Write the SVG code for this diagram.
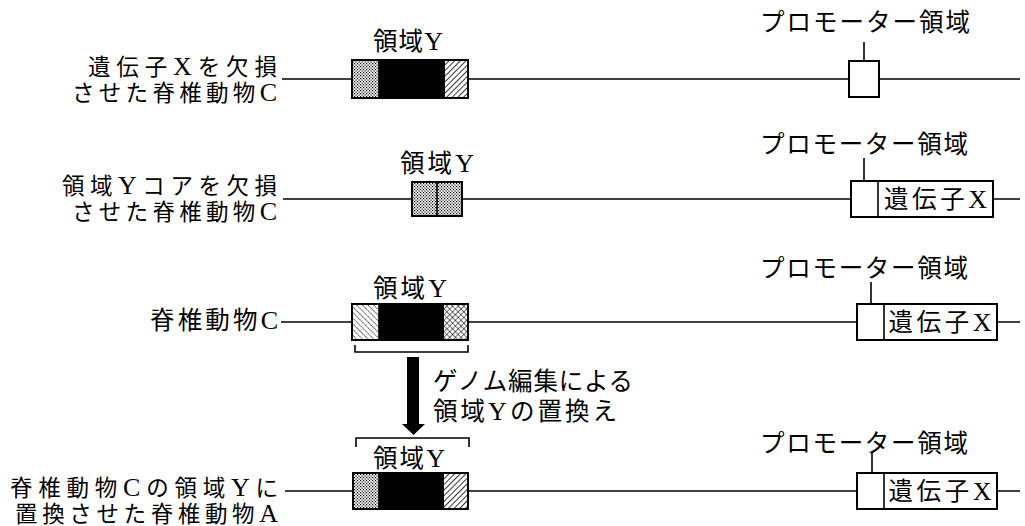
<svg xmlns="http://www.w3.org/2000/svg" width="1025" height="526" viewBox="0 0 1025 526">
<style>
text{font-family:"Liberation Serif","Noto Sans CJK JP",serif;font-size:24.5px;fill:#000}
.s{font-size:22.5px}
.L{font-size:26px}
.ln{stroke:#000;stroke-width:1.6;fill:none}
.bx{stroke:#000;stroke-width:2;fill:#fff}
.ol{stroke:#000;stroke-width:2;fill:none}
.blk{fill:#000}
.br{stroke:#000;stroke-width:1.6;fill:none}
</style>
<defs>
<pattern id="dots" width="3" height="3" patternUnits="userSpaceOnUse">
<rect width="3" height="3" fill="#fff"/><rect x="0" y="0" width="1.2" height="1.2" fill="#000"/><rect x="1.5" y="1.5" width="1.2" height="1.2" fill="#000"/>
</pattern>
<pattern id="hatch" width="4" height="4" patternUnits="userSpaceOnUse" patternTransform="rotate(45)">
<rect width="4" height="4" fill="#fff"/><line x1="0" y1="0" x2="0" y2="4" stroke="#000" stroke-width="1.6"/>
</pattern>
<pattern id="dhatch" width="4" height="4" patternUnits="userSpaceOnUse" patternTransform="rotate(-45)">
<rect width="4" height="4" fill="#fff"/><line x1="0" y1="0" x2="0" y2="4" stroke="#000" stroke-width="1.4" stroke-dasharray="1.4 0.8"/>
</pattern>
<pattern id="xhatch" width="4" height="4" patternUnits="userSpaceOnUse" patternTransform="rotate(45)">
<rect width="4" height="4" fill="#fff"/><line x1="0" y1="0" x2="0" y2="4" stroke="#000" stroke-width="1.1"/><line x1="0" y1="0" x2="4" y2="0" stroke="#000" stroke-width="1.1"/>
</pattern>
</defs>

<g id="connectors">
<line class="ln" x1="282" y1="79" x2="1020" y2="79"/>
<line class="ln" x1="283" y1="199" x2="1020" y2="199"/>
<line class="ln" x1="281" y1="322" x2="1020" y2="322"/>
<line class="ln" x1="285" y1="491" x2="1020" y2="491"/>
<line class="ln" x1="864" y1="42" x2="864" y2="61"/>
<line class="ln" x1="864" y1="158" x2="864" y2="181"/>
<line class="ln" x1="871" y1="282" x2="871" y2="304"/>
<line class="ln" x1="872" y1="453" x2="872" y2="473"/>
<path class="br" d="M355,345 V352 H468 V345"/>
<path class="br" d="M356,447 V438 H469 V447"/>
<rect x="407" y="357" width="12" height="68" fill="#000"/>
<path d="M402,424 L425,424 L413.5,435 Z" fill="#000"/>
</g>

<g id="row1-label">
<text class="s" x="277" y="75" text-anchor="end" textLength="189" lengthAdjust="spacing">遺伝子<tspan class="L">X</tspan>を欠損</text>
<text class="s" x="277" y="101" text-anchor="end" textLength="205" lengthAdjust="spacing">させた脊椎動物<tspan class="L">C</tspan></text>
</g>
<g id="row1-regionY">
<text x="408" y="50" text-anchor="middle" textLength="70" lengthAdjust="spacing">領域<tspan class="L">Y</tspan></text>
<rect class="bx" x="352" y="60" width="116" height="38"/>
<rect x="353" y="61" width="26" height="36" fill="url(#dots)"/>
<rect class="blk" x="379" y="61" width="66" height="36"/>
<rect x="445" y="61" width="22" height="36" fill="url(#hatch)"/>
<line class="ln" x1="379" y1="61" x2="379" y2="97"/>
</g>
<g id="row1-promoter">
<text x="865" y="31" text-anchor="middle" textLength="210" lengthAdjust="spacing">プロモーター領域</text>
<rect class="bx" x="849" y="61" width="30" height="36"/>
</g>

<g id="row2-label">
<text class="s" x="277" y="194" text-anchor="end" textLength="215" lengthAdjust="spacing">領域<tspan class="L">Y</tspan>コアを欠損</text>
<text class="s" x="277" y="220" text-anchor="end" textLength="205" lengthAdjust="spacing">させた脊椎動物<tspan class="L">C</tspan></text>
</g>
<g id="row2-regionY">
<text x="437" y="172" text-anchor="middle" textLength="74" lengthAdjust="spacing">領域<tspan class="L">Y</tspan></text>
<rect x="412" y="182" width="50" height="34" fill="url(#dots)"/>
<rect class="ol" x="412" y="182" width="50" height="34"/>
<line class="ln" x1="437" y1="183" x2="437" y2="215"/>
</g>
<g id="row2-promoter">
<text x="864" y="153" text-anchor="middle" textLength="208" lengthAdjust="spacing">プロモーター領域</text>
<rect class="bx" x="851" y="181" width="142" height="36"/>
<line class="ln" x1="878" y1="181" x2="878" y2="217"/>
<text x="935.5" y="208" text-anchor="middle" textLength="103" lengthAdjust="spacing">遺伝子<tspan class="L">X</tspan></text>
</g>

<g id="row3-label">
<text x="278" y="329" text-anchor="end" textLength="128" lengthAdjust="spacing">脊椎動物<tspan class="L">C</tspan></text>
</g>
<g id="row3-regionY">
<text x="410" y="297" text-anchor="middle" textLength="74" lengthAdjust="spacing">領域<tspan class="L">Y</tspan></text>
<rect class="bx" x="352" y="304" width="116" height="36"/>
<rect x="353" y="305" width="26" height="34" fill="url(#dhatch)"/>
<rect class="blk" x="379" y="305" width="65" height="34"/>
<rect x="444" y="305" width="23" height="34" fill="url(#xhatch)"/>
<line class="ln" x1="379" y1="305" x2="379" y2="339"/>
</g>
<g id="row3-promoter">
<text x="864" y="277" text-anchor="middle" textLength="208" lengthAdjust="spacing">プロモーター領域</text>
<rect class="bx" x="857" y="304" width="140" height="36"/>
<line class="ln" x1="884" y1="304" x2="884" y2="340"/>
<text x="940" y="331" text-anchor="middle" textLength="103" lengthAdjust="spacing">遺伝子<tspan class="L">X</tspan></text>
</g>

<g id="edit-label">
<text x="433" y="390" textLength="200" lengthAdjust="spacing">ゲノム編集による</text>
<text x="433" y="420" textLength="184" lengthAdjust="spacing">領域<tspan class="L">Y</tspan>の置換え</text>
</g>

<g id="row4-label">
<text class="s" x="278" y="496" text-anchor="end" textLength="268" lengthAdjust="spacing">脊椎動物<tspan class="L">C</tspan>の領域<tspan class="L">Y</tspan>に</text>
<text class="s" x="278" y="522" text-anchor="end" textLength="263" lengthAdjust="spacing">置換させた脊椎動物<tspan class="L">A</tspan></text>
</g>
<g id="row4-regionY">
<text x="409" y="467" text-anchor="middle" textLength="72" lengthAdjust="spacing">領域<tspan class="L">Y</tspan></text>
<rect class="bx" x="353" y="473" width="115" height="36"/>
<rect x="354" y="474" width="25" height="34" fill="url(#dots)"/>
<rect class="blk" x="379" y="474" width="65" height="34"/>
<rect x="444" y="474" width="23" height="34" fill="url(#hatch)"/>
<line class="ln" x1="379" y1="474" x2="379" y2="508"/>
</g>
<g id="row4-promoter">
<text x="864" y="452" text-anchor="middle" textLength="208" lengthAdjust="spacing">プロモーター領域</text>
<rect class="bx" x="857" y="473" width="140" height="36"/>
<line class="ln" x1="884" y1="473" x2="884" y2="509"/>
<text x="940" y="500" text-anchor="middle" textLength="103" lengthAdjust="spacing">遺伝子<tspan class="L">X</tspan></text>
</g>
</svg>
